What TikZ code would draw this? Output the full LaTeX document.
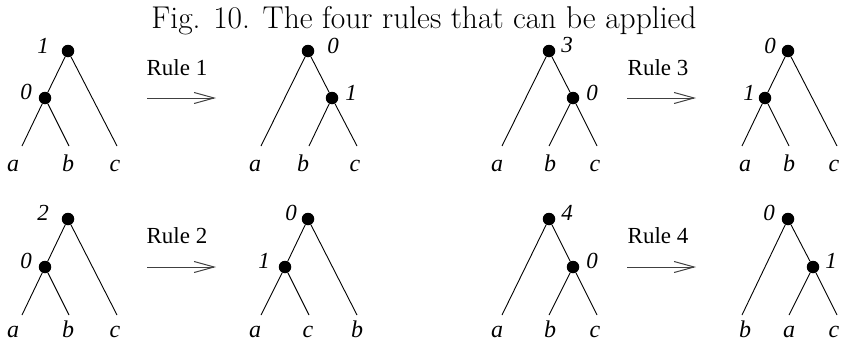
\documentclass[tikz,border=0pt]{standalone}
\usepackage{fontspec}
\newfontfamily\tms{Liberation Serif}
\usetikzlibrary{arrows.meta}
\begin{document}
\begin{tikzpicture}[x=1pt,y=-1pt,
  dot/.style={circle,fill=black,inner sep=0pt,minimum size=12.5pt},
  edge/.style={line width=0.9pt},
  lab/.style={font=\fontsize{24}{24}\selectfont\tms\itshape,inner sep=0pt,anchor=base},
  num/.style={font=\fontsize{23}{23}\selectfont\tms\itshape,inner sep=0pt,anchor=base},
  rulelab/.style={font=\fontsize{23}{23}\selectfont\tms,inner sep=0pt,anchor=base},
  rarrow/.style={draw=black!75,line width=1pt,-{Straight Barb[length=20pt,width=11pt,line width=1pt]}}]
\useasboundingbox (0,0) rectangle (841,343);
\node[font=\fontsize{31.5}{31.5}\selectfont,inner sep=0pt,anchor=base] (title) at (424,28) {Fig. 10. The four rules that can be applied};
% ---------- Tree A (top left)
\node[dot] (a1r) at (68,51) {};
\node[dot] (a1i) at (45,98) {};
\coordinate (a1a) at (22,146); \coordinate (a1b) at (69,146); \coordinate (a1c) at (117,146);
\draw[edge] (a1r) -- (a1i) -- (a1a); \draw[edge] (a1i) -- (a1b); \draw[edge] (a1r) -- (a1c);
\node[num] (a1rl) at (43,53) {1}; \node[num] (a1il) at (26,99) {0};
\node[lab] (a1al) at (13,171) {a}; \node[lab] (a1bl) at (68,171) {b}; \node[lab] (a1cl) at (115,171) {c};
% Rule 1
\coordinate (r1s) at (147,98); \coordinate (r1e) at (216,98);
\draw[rarrow] (r1s) -- (r1e);
\node[rulelab] (r1l) at (177,75) {Rule 1};
% ---------- Tree B (top)
\node[dot] (b1r) at (308,51) {};
\node[dot] (b1i) at (332,98) {};
\coordinate (b1a) at (261,146); \coordinate (b1b) at (309,146); \coordinate (b1c) at (357,146);
\draw[edge] (b1r) -- (b1a); \draw[edge] (b1r) -- (b1i) -- (b1b); \draw[edge] (b1i) -- (b1c);
\node[num] (b1rl) at (333,53) {0}; \node[num] (b1il) at (351,100) {1};
\node[lab] (b1al) at (255,171) {a}; \node[lab] (b1bl) at (303,171) {b}; \node[lab] (b1cl) at (355,171) {c};
% ---------- Tree C (top right)
\node[dot] (c1r) at (549,51) {};
\node[dot] (c1i) at (573,98) {};
\coordinate (c1a) at (502,146); \coordinate (c1b) at (549,146); \coordinate (c1c) at (597,146);
\draw[edge] (c1r) -- (c1a); \draw[edge] (c1r) -- (c1i) -- (c1b); \draw[edge] (c1i) -- (c1c);
\node[num] (c1rl) at (567,52) {3}; \node[num] (c1il) at (592,100) {0};
\node[lab] (c1al) at (497,171) {a}; \node[lab] (c1bl) at (550,171) {b}; \node[lab] (c1cl) at (595,171) {c};
% Rule 3
\coordinate (r3s) at (627,98); \coordinate (r3e) at (696,98);
\draw[rarrow] (r3s) -- (r3e);
\node[rulelab] (r3l) at (658,75) {Rule 3};
% ---------- Tree D (top far right)
\node[dot] (d1r) at (788,51) {};
\node[dot] (d1i) at (765,98) {};
\coordinate (d1a) at (742,146); \coordinate (d1b) at (789,146); \coordinate (d1c) at (837,146);
\draw[edge] (d1r) -- (d1i) -- (d1a); \draw[edge] (d1i) -- (d1b); \draw[edge] (d1r) -- (d1c);
\node[num] (d1rl) at (770,53) {0}; \node[num] (d1il) at (749,100) {1};
\node[lab] (d1al) at (745,171) {a}; \node[lab] (d1bl) at (789,171) {b}; \node[lab] (d1cl) at (834,171) {c};
% ---------- Tree E (bottom left)
\node[dot] (a2r) at (68,219) {};
\node[dot] (a2i) at (45,267) {};
\coordinate (a2a) at (22,315); \coordinate (a2b) at (69,315); \coordinate (a2c) at (117,315);
\draw[edge] (a2r) -- (a2i) -- (a2a); \draw[edge] (a2i) -- (a2b); \draw[edge] (a2r) -- (a2c);
\node[num] (a2rl) at (43,220) {2}; \node[num] (a2il) at (26,268) {0};
\node[lab] (a2al) at (13,337) {a}; \node[lab] (a2bl) at (68,337) {b}; \node[lab] (a2cl) at (115,337) {c};
% Rule 2
\coordinate (r2s) at (147,267); \coordinate (r2e) at (216,267);
\draw[rarrow] (r2s) -- (r2e);
\node[rulelab] (r2l) at (177,243) {Rule 2};
% ---------- Tree F (bottom)
\node[dot] (b2r) at (308,219) {};
\node[dot] (b2i) at (285,267) {};
\coordinate (b2a) at (261,315); \coordinate (b2c) at (309,315); \coordinate (b2b) at (357,315);
\draw[edge] (b2r) -- (b2i) -- (b2a); \draw[edge] (b2i) -- (b2c); \draw[edge] (b2r) -- (b2b);
\node[num] (b2rl) at (291,220) {0}; \node[num] (b2il) at (264,268) {1};
\node[lab] (b2al) at (255,337) {a}; \node[lab] (b2cl) at (308,337) {c}; \node[lab] (b2bl) at (357,337) {b};
% ---------- Tree G (bottom right)
\node[dot] (c2r) at (549,219) {};
\node[dot] (c2i) at (573,267) {};
\coordinate (c2a) at (502,315); \coordinate (c2b) at (549,315); \coordinate (c2c) at (597,315);
\draw[edge] (c2r) -- (c2a); \draw[edge] (c2r) -- (c2i) -- (c2b); \draw[edge] (c2i) -- (c2c);
\node[num] (c2rl) at (567,220) {4}; \node[num] (c2il) at (592,268) {0};
\node[lab] (c2al) at (497,337) {a}; \node[lab] (c2bl) at (550,337) {b}; \node[lab] (c2cl) at (595,337) {c};
% Rule 4
\coordinate (r4s) at (627,267); \coordinate (r4e) at (696,267);
\draw[rarrow] (r4s) -- (r4e);
\node[rulelab] (r4l) at (658,243) {Rule 4};
% ---------- Tree H (bottom far right)
\node[dot] (d2r) at (788,219) {};
\node[dot] (d2i) at (813,267) {};
\coordinate (d2b) at (742,315); \coordinate (d2a) at (789,315); \coordinate (d2c) at (837,315);
\draw[edge] (d2r) -- (d2b); \draw[edge] (d2r) -- (d2i) -- (d2a); \draw[edge] (d2i) -- (d2c);
\node[num] (d2rl) at (769,220) {0}; \node[num] (d2il) at (831,268) {1};
\node[lab] (d2bl) at (745,337) {b}; \node[lab] (d2al) at (789,337) {a}; \node[lab] (d2cl) at (834,337) {c};
\end{tikzpicture}
\end{document}
